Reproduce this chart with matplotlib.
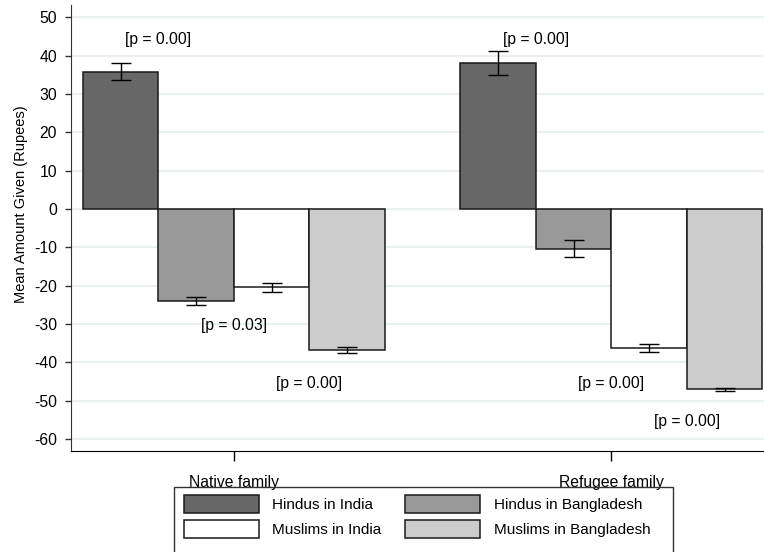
import numpy as np
import matplotlib.pyplot as plt
from matplotlib.patches import Patch, Rectangle

plt.rcParams['font.family'] = ['Liberation Sans', 'DejaVu Sans']

# datos
grupos = ["Native family", "Refugee family"]
series = ["Hindus in India", "Hindus in Bangladesh", "Muslims in India", "Muslims in Bangladesh"]
colores = ["#676767", "#999999", "#ffffff", "#cccccc"]

# medias por serie: [native, refugee]
medias = {
    "Hindus in India": [35.8, 38.1],
    "Hindus in Bangladesh": [-24.0, -10.3],
    "Muslims in India": [-20.4, -36.2],
    "Muslims in Bangladesh": [-36.8, -47.0],
}
errores = {
    "Hindus in India": [2.2, 3.1],
    "Hindus in Bangladesh": [1.0, 2.2],
    "Muslims in India": [1.2, 1.1],
    "Muslims in Bangladesh": [0.7, 0.4],
}

# etiquetas de p: (grupo, barra a cuya derecha se centra, altura)
p_textos = ["[p = 0.00]", "[p = 0.03]", "[p = 0.00]", "[p = 0.00]", "[p = 0.00]", "[p = 0.00]"]
p_grupo = [0, 0, 0, 1, 1, 1]
p_barra = [0, 1, 2, 0, 1, 2]
p_y = [44.3, -30.4, -45.4, 44.3, -45.4, -55.5]

y_ticks = np.arange(-60, 51, 10)

fig = plt.figure(figsize=(7.64, 5.52), dpi=100)
ax = fig.add_axes([71/764, 1-451/552, 1-71/764, (451-5)/552])

ancho = 1.0
sep = 5.0
centro0 = 2.159
centros = centro0 + sep*np.arange(len(grupos))

for k, s in enumerate(series):
    x = centros + (k - 1.5)*ancho
    ax.bar(x, medias[s], width=ancho, color=colores[k], edgecolor="#1a1a1a",
           linewidth=1.1, zorder=2)
    ax.errorbar(x, medias[s], yerr=errores[s], fmt="none", ecolor="black",
                elinewidth=1, capsize=7, capthick=1, zorder=3)

for t, g, b, y in zip(p_textos, p_grupo, p_barra, p_y):
    xr = centros[g] + (b - 1.5)*ancho + ancho/2
    ax.text(xr, y, t, ha="center", va="center", fontsize=11.3, zorder=4)

ax.set_xlim(0, 9.18)
ax.set_ylim(-63.1, 53.2)
ax.set_yticks(y_ticks)
ax.set_yticklabels([str(v) for v in y_ticks], fontsize=11.3)
ax.set_xticks(centros)
ax.set_xticklabels(grupos, fontsize=11.3)
ax.yaxis.grid(True, color="#e8f0f2", linewidth=1.5, zorder=0)
ax.set_axisbelow(True)
ax.tick_params(axis="y", length=4, width=1, pad=6, colors="#333333", labelcolor="black")
ax.tick_params(axis="x", length=7, width=1, pad=10)
for lado in ["top", "right"]:
    ax.spines[lado].set_visible(False)
ax.spines["left"].set_color("#333333")
ax.spines["bottom"].set_color("black")
ax.set_ylabel("Mean Amount Given (Rupees)", fontsize=10.5)
ax.yaxis.set_label_coords(-0.062, 0.554)

# marco de la leyenda (se corta en el borde inferior)
marco = Rectangle((174/764, -0.05), (673-174)/764, 0.05 + 1-487/552,
                  transform=fig.transFigure, fill=False, edgecolor="#333333",
                  linewidth=1, zorder=5)
fig.add_artist(marco)

manijas = [Patch(facecolor=c, edgecolor="#1a1a1a", linewidth=1.1) for c in colores]
orden = [0, 2, 1, 3]
leg = fig.legend([manijas[i] for i in orden], [series[i] for i in orden],
                 loc="upper left", bbox_to_anchor=(176/764, 1-487/552), ncol=2,
                 fontsize=11, frameon=False,
                 borderaxespad=0, borderpad=0.5, handlelength=4.9, handleheight=1.45,
                 handletextpad=0.9, columnspacing=1.56, labelspacing=0.45)

plt.savefig("out.png", dpi=100)
